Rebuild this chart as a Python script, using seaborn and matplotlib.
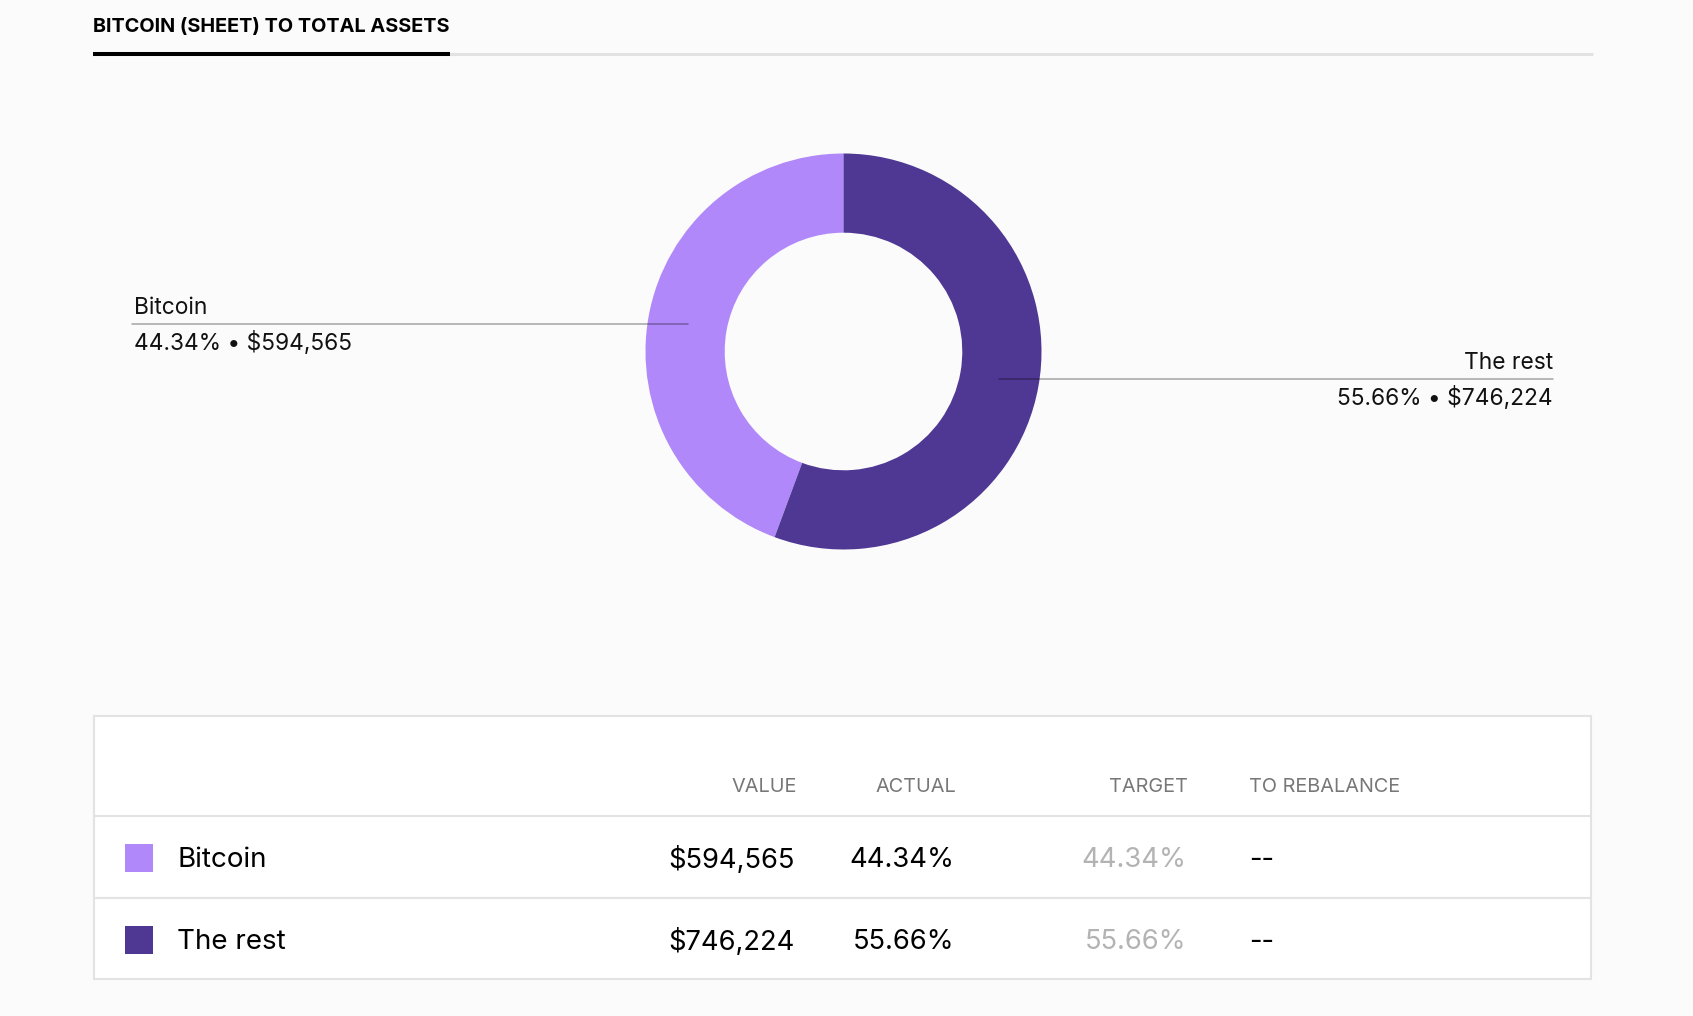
import matplotlib.pyplot as plt
import numpy as np
import seaborn as sns
from matplotlib.patches import Rectangle

# data
labels = ["Bitcoin", "The rest"]
values = [594565, 746224]
targets = [44.34, 55.66]
rebalance = ["--", "--"]
colors = ["#b088fa", "#4f3794"]
title = "BITCOIN (SHEET) TO TOTAL ASSETS"
headers = ["VALUE", "ACTUAL", "TARGET", "TO REBALANCE"]

W, H = 1693, 1016
sns.set_theme(style="white")
plt.rcParams['font.family'] = ['Inter', 'DejaVu Sans']

fig = plt.figure(figsize=(W / 100, H / 100), dpi=100, facecolor="#fbfbfb")
# background axes in pixel coordinates (y down)
bg = fig.add_axes([0, 0, 1, 1])
bg.set_xlim(0, W)
bg.set_ylim(H, 0)
bg.axis("off")

shares = np.array(values) / sum(values) * 100

# title + tab underline
bg.text(93, 27, title, fontsize=14.3, fontweight="bold", color="black", va="center", ha="left")
bg.plot([93, 1593], [54, 54], color="#e2e2e2", lw=2.2, solid_capstyle="butt")
bg.plot([93, 450], [54, 54], color="black", lw=2.9, solid_capstyle="butt")

# donut
cx, cy, R = 843.5, 351.5, 198
ax = fig.add_axes([(cx - R) / W, 1 - (cy + R) / H, 2 * R / W, 2 * R / H])
wedges, _ = ax.pie(values, colors=colors, startangle=90, counterclock=True, radius=1,
                   wedgeprops=dict(width=0.4, linewidth=0))
ax.set_xlim(-1, 1)
ax.set_ylim(-1, 1)
ax.axis("off")


def to_bg(x, y):
    return bg.transData.inverted().transform(ax.transData.transform((x, y)))


for i, w in enumerate(wedges):
    ang = np.deg2rad((w.theta1 + w.theta2) / 2)
    px, py = to_bg(0.8 * np.cos(ang), 0.8 * np.sin(ang))
    sub = f"{shares[i]:.2f}% \u2022 ${values[i]:,}"
    if np.cos(ang) < 0:
        x0, x1, tx, ha = 132, px, 134, "left"
    else:
        x0, x1, tx, ha = px, 1553, 1553, "right"
    fig.add_artist(plt.Line2D([x0, x1], [py, py], transform=bg.transData,
                              color="black", alpha=0.35, lw=1.1))
    bg.text(tx, py - 10, labels[i], fontsize=16.4, ha=ha, va="baseline", color="#111111")
    bg.text(tx, py + 7, sub, fontsize=16.4, ha=ha, va="top", color="#111111")

# table
bg.add_patch(Rectangle((94, 716), 1497, 263, facecolor="white", edgecolor="#e3e3e3", lw=1.5, zorder=1))
for y in [816, 898]:
    bg.plot([94, 1591], [y, y], color="#e3e3e3", lw=1.5, zorder=2)

hdr_x = [797, 956, 1188, 1249]
hdr_ha = ["right", "right", "right", "left"]
for h, x, ha in zip(headers, hdr_x, hdr_ha):
    bg.text(x, 787, h, fontsize=14.3, color="#777777", ha=ha, va="center")

row_y = [858, 940]
for i, y in enumerate(row_y):
    bg.add_patch(Rectangle((125, y - 14), 28, 28, facecolor=colors[i], lw=0, zorder=3))
    ty = y + 2
    bg.text(177, ty, labels[i], fontsize=20, color="black", ha="left", va="center")
    bg.text(795, ty, f"${values[i]:,}", fontsize=19.7, color="black", ha="right", va="center")
    bg.text(954, ty, f"{shares[i]:.2f}%", fontsize=19.7, color="black", ha="right", va="center")
    bg.text(1186, ty, f"{targets[i]:.2f}%", fontsize=19.7, color="#b3b3b3", ha="right", va="center")
    bg.text(1249, ty, rebalance[i], fontsize=19.7, color="black", ha="left", va="center")

fig.savefig("out.png", dpi=100, facecolor=fig.get_facecolor())
